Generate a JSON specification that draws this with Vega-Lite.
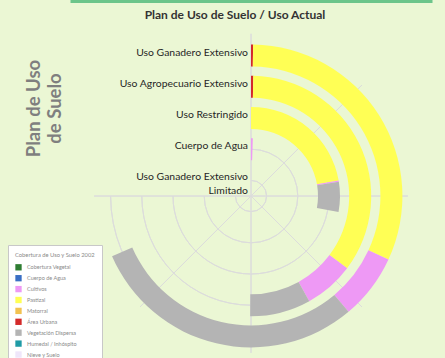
{
  "$schema": "https://vega.github.io/schema/vega-lite/v6.json",
  "autosize": {"type": "none"},
  "width": 362,
  "height": 312,
  "padding": {"left": 70, "top": 40, "right": 13, "bottom": 6},
  "background": "#ebf7d4",
  "config": {"view": {"stroke": null}, "font": "Lato"},
  "title": {
    "text": "Plan de Uso de Suelo / Uso Actual",
    "fontSize": 12,
    "fontWeight": "bold",
    "color": "#333333",
    "anchor": "middle",
    "dx": -16,
    "offset": -21
  },
  "layer": [
    {
      "data": {"values": [
        {"ring": 1, "a0": 0, "a1": 270},
        {"ring": 2, "a0": 0, "a1": 270},
        {"ring": 3, "a0": 0, "a1": 270},
        {"ring": 4, "a0": 0, "a1": 270},
        {"ring": 5, "a0": 0, "a1": 270}
      ]},
      "mark": {"type": "arc", "filled": false, "stroke": "#dcdcdc", "strokeWidth": 1},
      "encoding": {
        "theta": {"field": "a0", "type": "quantitative", "scale": {"domain": [0, 270], "range": [0, 4.71238898]}},
        "theta2": {"field": "a1"},
        "radius": {"field": "ring", "type": "quantitative", "scale": {"type": "linear", "zero": false, "domain": [0.5, 5.5], "range": [0, 156]}},
        "radius2": {"field": "ring"}
      }
    },
    {
      "data": {"values": [
        {"angle": 0, "reach": 5.7},
        {"angle": 45, "reach": 5.53},
        {"angle": 90, "reach": 5.53},
        {"angle": 135, "reach": 5.53},
        {"angle": 180, "reach": 5.53},
        {"angle": 225, "reach": 5.53},
        {"angle": 270, "reach": 5.53}
      ]},
      "mark": {"type": "arc", "filled": false, "stroke": "#dcdcdc", "strokeWidth": 1},
      "encoding": {
        "theta": {"field": "angle", "type": "quantitative", "scale": {"domain": [0, 270], "range": [0, 4.71238898]}},
        "theta2": {"field": "angle"},
        "radius": {"field": "reach", "type": "quantitative", "scale": {"type": "linear", "zero": false, "domain": [0.5, 5.5], "range": [0, 156]}}
      }
    },
    {
      "data": {"values": [
        {"ring": 5, "plan": "Uso Ganadero Extensivo", "uso": "Área Urbana", "start": 0, "end": 0.8},
        {"ring": 5, "plan": "Uso Ganadero Extensivo", "uso": "Pastizal", "start": 0.8, "end": 114.8},
        {"ring": 5, "plan": "Uso Ganadero Extensivo", "uso": "Cultivos", "start": 114.8, "end": 139.9},
        {"ring": 5, "plan": "Uso Ganadero Extensivo", "uso": "Vegetación Dispersa", "start": 139.9, "end": 246.6},
        {"ring": 4, "plan": "Uso Agropecuario Extensivo", "uso": "Área Urbana", "start": 0, "end": 1.1},
        {"ring": 4, "plan": "Uso Agropecuario Extensivo", "uso": "Pastizal", "start": 1.1, "end": 126.9},
        {"ring": 4, "plan": "Uso Agropecuario Extensivo", "uso": "Cultivos", "start": 126.9, "end": 151},
        {"ring": 4, "plan": "Uso Agropecuario Extensivo", "uso": "Vegetación Dispersa", "start": 151, "end": 180.4},
        {"ring": 3, "plan": "Uso Restringido", "uso": "Pastizal", "start": 0, "end": 80},
        {"ring": 3, "plan": "Uso Restringido", "uso": "Cultivos", "start": 80, "end": 80.8},
        {"ring": 3, "plan": "Uso Restringido", "uso": "Vegetación Dispersa", "start": 80.8, "end": 100.4},
        {"ring": 2, "plan": "Cuerpo de Agua", "uso": "Cultivos", "start": 0, "end": 1.8}
      ]},
      "mark": {"type": "arc", "radiusOffset": 11, "radius2Offset": -11},
      "encoding": {
        "theta": {"field": "start", "type": "quantitative", "scale": {"domain": [0, 270], "range": [0, 4.71238898]}},
        "theta2": {"field": "end"},
        "radius": {"field": "ring", "type": "quantitative", "scale": {"type": "linear", "zero": false, "domain": [0.5, 5.5], "range": [0, 156]}},
        "radius2": {"field": "ring"},
        "color": {
          "field": "uso",
          "type": "nominal",
          "scale": {
            "domain": ["Cobertura Vegetal", "Cuerpo de Agua", "Cultivos", "Pastizal", "Matorral", "Área Urbana", "Vegetación Dispersa", "Humedal / Inhóspito", "Nieve y Suelo"],
            "range": ["#2e7d32", "#3a6fc4", "#ee99f5", "#ffff55", "#f2c250", "#d42a2a", "#b4b4b4", "#1f9ba6", "#efe6fa"]
          },
          "legend": {
            "title": "Cobertura de Uso y Suelo 2002",
            "orient": "none",
            "legendX": -62,
            "legendY": 205,
            "fillColor": "#ffffff",
            "strokeColor": "#c8c8c8",
            "padding": 7,
            "titleFontSize": 5.8,
            "titleFontWeight": "normal",
            "titleColor": "#8a8a8a",
            "titlePadding": 6,
            "labelFontSize": 5.5,
            "labelColor": "#8a8a8a",
            "labelOffset": 5,
            "symbolType": "square",
            "symbolSize": 40,
            "symbolStrokeWidth": 0,
            "rowPadding": 3.9
          }
        }
      }
    },
    {
      "data": {"values": [
        {"ring": 5, "plan": "Uso Ganadero Extensivo"},
        {"ring": 4, "plan": "Uso Agropecuario Extensivo"},
        {"ring": 3, "plan": "Uso Restringido"},
        {"ring": 2, "plan": "Cuerpo de Agua"},
        {"ring": 1, "plan": "Uso Ganadero Extensivo\nLimitado"}
      ]},
      "mark": {"type": "text", "align": "right", "baseline": "alphabetic", "dx": -3, "fontSize": 10.4, "lineBreak": "\n", "lineHeight": 13.6, "color": "#262626"},
      "encoding": {
        "theta": {"datum": 0, "type": "quantitative", "scale": {"domain": [0, 270], "range": [0, 4.71238898]}},
        "radius": {"field": "ring", "type": "quantitative", "scale": {"type": "linear", "zero": false, "domain": [0.5, 5.5], "range": [0, 156]}},
        "text": {"field": "plan"}
      }
    },
    {
      "data": {"values": [{"k": 0}]},
      "mark": {"type": "point", "opacity": 0},
      "encoding": {
        "x": {"datum": 0, "type": "quantitative", "axis": {"orient": "top", "offset": 39, "labels": false, "ticks": false, "grid": false, "title": null, "domainColor": "#6cc58a", "domainWidth": 3}},
        "y": {"datum": 0, "type": "quantitative", "axis": {"title": ["Plan de Uso", "de Suelo"], "labels": false, "ticks": false, "domain": false, "grid": false, "titleFontSize": 18.5, "titleFontWeight": "bold", "titleColor": "#7f7f7f", "titlePadding": 6, "titleY": 68, "titleLineHeight": 21}}
      }
    }
  ]
}
